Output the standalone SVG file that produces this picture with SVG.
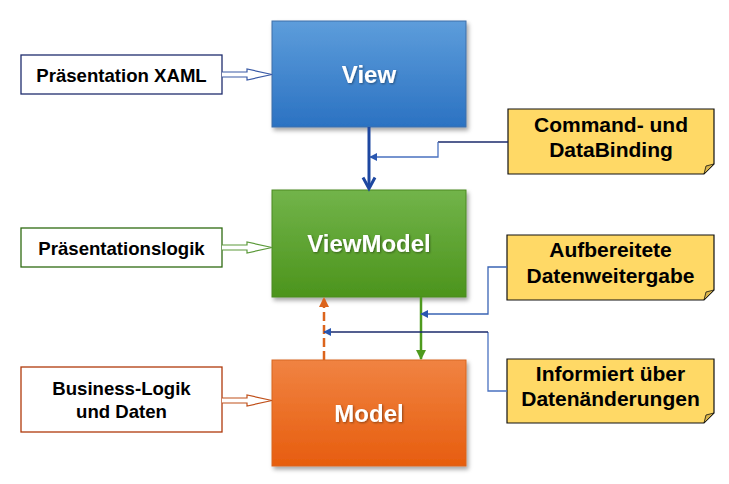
<svg xmlns="http://www.w3.org/2000/svg" width="729" height="484" viewBox="0 0 729 484">
<defs>
<linearGradient id="gBlue" x1="0" y1="0" x2="0" y2="1"><stop offset="0" stop-color="#5d9ddb"/><stop offset="1" stop-color="#2b72c2"/></linearGradient>
<linearGradient id="gGreen" x1="0" y1="0" x2="0" y2="1"><stop offset="0" stop-color="#72b44a"/><stop offset="1" stop-color="#4c941c"/></linearGradient>
<linearGradient id="gOrange" x1="0" y1="0" x2="0" y2="1"><stop offset="0" stop-color="#f08342"/><stop offset="1" stop-color="#e75d0e"/></linearGradient>
<filter id="sh" x="-10%" y="-10%" width="125%" height="130%"><feDropShadow dx="2" dy="3" stdDeviation="2" flood-color="#000" flood-opacity="0.35"/></filter>
<filter id="tsh" x="-10%" y="-20%" width="130%" height="150%"><feDropShadow dx="1" dy="1" stdDeviation="0.8" flood-color="#000" flood-opacity="0.4"/></filter>
<marker id="triBlue" viewBox="0 0 10 10" refX="9" refY="5" markerWidth="8" markerHeight="8" markerUnits="userSpaceOnUse" orient="auto"><path d="M0,0 L10,5 L0,10 Z" fill="#2a57b0"/></marker>
<marker id="triGreen" viewBox="0 0 10 10" refX="9" refY="5" markerWidth="10" markerHeight="10" markerUnits="userSpaceOnUse" orient="auto"><path d="M0,0 L10,5 L0,10 Z" fill="#4e9a1e"/></marker>
<marker id="triOrange" viewBox="0 0 10 10" refX="9" refY="5" markerWidth="10" markerHeight="10" markerUnits="userSpaceOnUse" orient="auto"><path d="M0,0 L10,5 L0,10 Z" fill="#dc641c"/></marker>
</defs>
<style>
.node text{font-family:"Liberation Sans",Arial,sans-serif;font-weight:bold;font-size:24px;fill:#fff;text-anchor:middle}
.lbl{font-family:"Liberation Sans",Arial,sans-serif;font-weight:bold;font-size:18.6px;fill:#000;text-anchor:middle}
.nt{font-family:"Liberation Sans",Arial,sans-serif;font-weight:bold;font-size:21px;fill:#000;text-anchor:middle}
.note{fill:#ffd966;stroke:#111;stroke-width:1.2}
.fold{fill:#d9b44a;stroke:#111;stroke-width:0.8}
.box{fill:#fff;stroke-width:1.3}
</style>
<rect width="729" height="484" fill="#fff"/>

<g id="view" class="node">
<rect x="272" y="21" width="194" height="106" fill="url(#gBlue)" stroke="#3f6fa8" stroke-width="1" filter="url(#sh)"/>
<text x="369" y="83" filter="url(#tsh)">View</text>
</g>
<g id="viewmodel" class="node">
<rect x="272" y="190" width="194" height="107" fill="url(#gGreen)" stroke="#4a8a22" stroke-width="1" filter="url(#sh)"/>
<text x="369" y="252" filter="url(#tsh)">ViewModel</text>
</g>
<g id="model" class="node">
<rect x="272" y="360" width="194" height="106" fill="url(#gOrange)" stroke="#d8661e" stroke-width="1" filter="url(#sh)"/>
<text x="369" y="421.5" filter="url(#tsh)">Model</text>
</g>

<g id="xaml">
<rect class="box" x="21" y="55" width="201" height="39" stroke="#1f2d6e"/>
<text class="lbl" x="121.5" y="81.5">Präsentation XAML</text>
</g>
<g id="praeslogik">
<rect class="box" x="21" y="228" width="201" height="39" stroke="#2e6b12"/>
<text class="lbl" x="121.5" y="254.5">Präsentationslogik</text>
</g>
<g id="business">
<rect class="box" x="21" y="367" width="201" height="65" stroke="#b03a0c"/>
<text class="lbl" x="121.5" y="395">Business-Logik</text>
<text class="lbl" x="121.5" y="417.5">und Daten</text>
</g>

<g id="note-command">
<path class="note" d="M508,109 H714 V164 L704,174 H508 Z"/>
<path class="fold" d="M714,164 L704,174 L706,166 Z"/>
<text class="nt" x="611" y="132">Command- und</text>
<text class="nt" x="611" y="157">DataBinding</text>
</g>
<g id="note-aufbereitet">
<path class="note" d="M507,235 H714 V290 L704,300 H507 Z"/>
<path class="fold" d="M714,290 L704,300 L706,292 Z"/>
<text class="nt" x="610.5" y="257">Aufbereitete</text>
<text class="nt" x="610.5" y="283">Datenweitergabe</text>
</g>
<g id="note-informiert">
<path class="note" d="M507,359 H714 V413 L704,423 H507 Z"/>
<path class="fold" d="M714,413 L704,423 L706,415 Z"/>
<text class="nt" x="610.5" y="381">Informiert über</text>
<text class="nt" x="610.5" y="406">Datenänderungen</text>
</g>

<g id="connectors" fill="none">
<path d="M222,72 H247 V69 L272,74.5 L247,80 V77 H222" fill="#fff" stroke="#3a5aa6" stroke-width="1.2"/>
<path d="M222,245 H247 V242 L272,247.5 L247,253 V250 H222" fill="#fff" stroke="#5c9a3a" stroke-width="1.2"/>
<path d="M222,398 H247 V395 L272,400.5 L247,406 V403 H222" fill="#fff" stroke="#c0501a" stroke-width="1.2"/>

<path d="M369,127 V188" stroke="#1d47a0" stroke-width="3"/>
<path d="M363,177.5 L369,188.5 L375,177.5" stroke="#1d47a0" stroke-width="3" stroke-linejoin="miter"/>

<path d="M508,142 H438" stroke="#1b2a6b" stroke-width="1.3"/>
<path d="M438,142 V157 H370" stroke="#4a72c0" stroke-width="1.3" marker-end="url(#triBlue)"/>

<path d="M421,297 V359" stroke="#4e9a1e" stroke-width="2.5" marker-end="url(#triGreen)"/>
<path d="M324,360 V298" stroke="#dc641c" stroke-width="2.5" stroke-dasharray="9,4" marker-end="url(#triOrange)"/>

<path d="M507,267 H488 V314 H421" stroke="#3a64b4" stroke-width="1.3" marker-end="url(#triBlue)"/>
<path d="M507,391 H488 V332" stroke="#4a72c0" stroke-width="1.3"/>
<path d="M488,332 H324" stroke="#1b2a6b" stroke-width="1.3" marker-end="url(#triBlue)"/>
</g>
</svg>
